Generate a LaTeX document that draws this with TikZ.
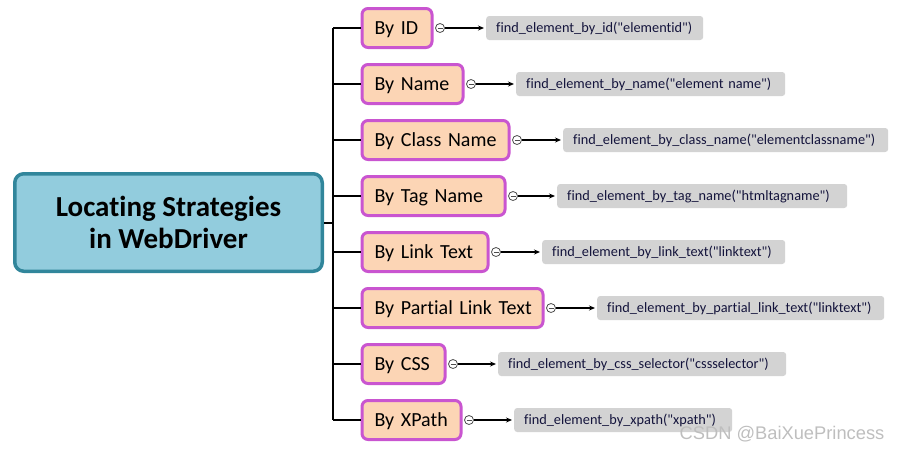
\documentclass[tikz,border=0pt]{standalone}
\usepackage{fontspec}
\setmainfont{Carlito}[Ligatures={TeXOff,CommonOff}]
\newfontfamily\wmfont{Liberation Sans}
\usetikzlibrary{arrows.meta}
\definecolor{rootfill}{HTML}{92CCDD}
\definecolor{rootline}{HTML}{31869B}
\definecolor{kidfill}{HTML}{FCD5B5}
\definecolor{kidline}{HTML}{C955D0}
\definecolor{codefill}{HTML}{D3D3D3}
\definecolor{codetext}{HTML}{14143C}
\definecolor{wmgray}{HTML}{BEBEBE}
\tikzset{
 rootbox/.style={draw=rootline, line width=3.5pt, fill=rootfill, rounded corners=9pt,
   minimum width=307.5pt, minimum height=97.5pt, inner sep=0pt, align=center,
   font=\fontsize{29}{32}\selectfont\bfseries},
 kidbox/.style={draw=kidline, line width=3pt, fill=kidfill, rounded corners=6pt,
   minimum height=39pt, inner xsep=12.5pt, inner ysep=0pt, anchor=west, align=left,
   text height=13pt, text depth=0pt, font=\fontsize{20}{24}\selectfont},
 codebox/.style={fill=codefill, rounded corners=3pt, minimum height=24pt,
   inner xsep=10pt, inner ysep=0pt, anchor=west, align=left, text=codetext,
   text height=9.5pt, text depth=0pt, font=\fontsize{14.3}{16}\selectfont},
 knob/.style={circle, draw=black!70, fill=white, line width=0.8pt, minimum size=9pt,
   inner sep=0pt, path picture={\draw[black!70, line width=0.8pt]
   ([xshift=-2.5pt]path picture bounding box.center) --
   ([xshift=2.5pt]path picture bounding box.center);}},
 trunk/.style={line width=2pt, black},
 link/.style={line width=1.6pt, black, -{Stealth[length=6pt,width=5pt]}, shorten >=2pt},
 watermark/.style={text=wmgray, font=\wmfont\fontsize{18.3}{20}\selectfont, inner sep=0pt},
}
\begin{document}
\begin{tikzpicture}[x=1pt,y=-1pt]
\useasboundingbox (0,0) rectangle (901,451);
\node[rootbox] (root) at (168.5,222.5) {Locating Strategies\\in WebDriver};
\coordinate (hub) at (333,222.5);
\foreach \n/\cy/\R/\gl/\gr/\lab/\code in {
 id/28/432/486/703/By ID/find\_element\_by\_id("elementid"),
 name/84/463/516/785/By Name/find\_element\_by\_name("element name"),
 class/140/509/563/888/By Class Name/find\_element\_by\_class\_name("elementclassname"),
 tag/196/505/557/847/By Tag Name/find\_element\_by\_tag\_name("htmltagname"),
 link/252/488/542/785/By Link Text/find\_element\_by\_link\_text("linktext"),
 partial/308/543/597/884/By Partial Link Text/find\_element\_by\_partial\_link\_text("linktext"),
 css/364/445/498/786/By CSS/find\_element\_by\_css\_selector("cssselector"),
 xpath/420/461/514/732/By XPath/find\_element\_by\_xpath("xpath")}
{
 \pgfmathsetmacro{\kw}{\R-362-25}
 \pgfmathsetmacro{\cw}{\gr-\gl-20}
 \node[kidbox, text width=\kw pt] (\n) at (360.5,\cy) {\mbox{\lab}};
 \node[knob] (\n k) at (\R+8,\cy) {};
 \node[codebox, text width=\cw pt] (\n c) at (\gl,\cy) {\mbox{\code}};
 \draw[trunk] (hub |- \n.west) -- (\n.west);
 \draw[link] (\n k.east) -- (\n c.west);
}
\draw[trunk] (hub |- id.west) -- (hub |- xpath.west);
\draw[trunk] (root.east) -- (hub);
\node[watermark] (wm) at (782,434) {CSDN @BaiXuePrincess};
\end{tikzpicture}
\end{document}
